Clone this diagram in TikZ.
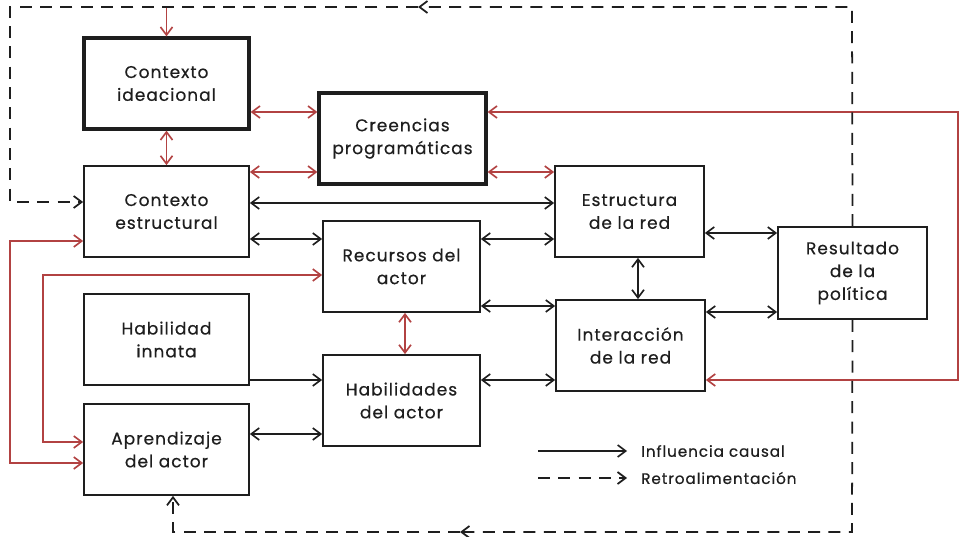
\documentclass[tikz,border=0pt]{standalone}
\usepackage{fontspec}
\setmainfont{Poppins}
\newfontfamily\boxfont{Poppins}[LetterSpace=6,FakeBold=0.5]
\usetikzlibrary{arrows.meta,calc}

\definecolor{linkred}{RGB}{178,66,66}
\definecolor{ink}{RGB}{30,30,30}

\begin{document}
\begin{tikzpicture}[x=0.03cm,y=-0.03cm,
  >={Straight Barb[length=2.4mm,width=3.6mm]},
  box/.style={draw=ink, line width=1.5pt, align=center, inner sep=0pt,
    font=\boxfont\fontsize{14.5}{19.5}\selectfont, text=ink,
    execute at begin node={\rule{0pt}{16pt}}},
  thickbox/.style={box, line width=2.8pt},
  wide/.style={minimum width=4.95cm, minimum height=2.73cm},
  mid/.style={minimum width=4.71cm, minimum height=2.73cm},
  narrow/.style={minimum width=4.47cm, minimum height=2.73cm},
  link/.style={draw=ink, line width=1.4pt},
  redlink/.style={draw=linkred, line width=1.4pt},
  feedback/.style={draw=ink, line width=1.5pt, dash pattern=on 3.6mm off 2.5mm},
  legend/.style={anchor=west, inner sep=0pt, font=\boxfont\fontsize{13}{15}\selectfont, text=ink}
]
\useasboundingbox (0,0) rectangle (960,537);

% boxes
\node[thickbox, wide] (ci) at (166.5,83.5) {Contexto\\ideacional};
\node[thickbox, minimum width=5.01cm, minimum height=2.73cm] (cp) at (402.5,138.5) {Creencias\\programáticas};
\node[box, wide] (ce) at (166.5,211.5) {Contexto\\estructural};
\node[box, narrow] (er) at (629.5,211.5) {Estructura\\de la red};
\node[box, mid] (ra) at (401.5,266.5) {Recursos del\\actor};
\node[box, narrow, minimum height=2.76cm] (rp) at (852.5,273) {Resultado\\de la\\política};
\node[box, wide] (hi) at (166.5,339.5) {Habilidad\\innata};
\node[box, narrow] (ir) at (630.5,345.5) {Interacción\\de la red};
\node[box, mid] (ha) at (401.5,400.5) {Habilidades\\del actor};
\node[box, wide] (aa) at (166.5,449.5) {Aprendizaje\\del actor};

% horizontal levels of the connectors
\coordinate (y112) at (0,112);
\coordinate (y172) at (0,172);
\coordinate (y203) at (0,203);
\coordinate (y233) at (0,233);
\coordinate (y239) at (0,239);
\coordinate (y241) at (0,241);
\coordinate (y275) at (0,275);
\coordinate (y306) at (0,306);
\coordinate (y312) at (0,312);
\coordinate (y380) at (0,380);
\coordinate (y434) at (0,434);
\coordinate (y442) at (0,442);
\coordinate (y463) at (0,463);

% bends of the routed lines
\coordinate (ftr) at (852,7);
\coordinate (ftm) at (418,7);
\coordinate (ftl) at (10,7);
\coordinate (fml) at (10,202);
\coordinate (fbr) at (852,532);
\coordinate (fbm) at (460,532);
\coordinate (fbl) at (173,532);
\coordinate (rr1) at (958,112);
\coordinate (rr2) at (958,380);
\coordinate (rl1) at (10,241);
\coordinate (rl2) at (10,463);
\coordinate (rm1) at (43,275);
\coordinate (rm2) at (43,442);

% red links
\draw[redlink,->] (ci.north |- ftl) -- (ci.north);
\draw[redlink,<->] (ci.south) -- (ce.north);
\draw[redlink,<->] (ci.east |- y112) -- (cp.west |- y112);
\draw[redlink,<->] (ce.east |- y172) -- (cp.west |- y172);
\draw[redlink,<->] (cp.east |- y172) -- (er.west |- y172);
\draw[redlink,<->] (cp.east |- y112) -- (rr1) -- (rr2) -- (ir.east |- y380);
\draw[redlink,<->] (ce.west |- y241) -- (rl1) -- (rl2) -- (aa.west |- y463);
\draw[redlink,<->] (ra.west |- y275) -- (rm1) -- (rm2) -- (aa.west |- y442);
\draw[redlink,<->] (ra.south -| 405,0) -- (ha.north -| 405,0);

% causal links
\draw[link,<->] (ce.east |- y203) -- (er.west |- y203);
\draw[link,<->] (ce.east |- y239) -- (ra.west |- y239);
\draw[link,<->] (ra.east |- y239) -- (er.west |- y239);
\draw[link,<->] (er.east |- y233) -- (rp.west |- y233);
\draw[link,<->] (ra.east |- y306) -- (ir.west |- y306);
\draw[link,<->] (ir.east |- y312) -- (rp.west |- y312);
\draw[link,<->] (er.south -| 638,0) -- (ir.north -| 638,0);
\draw[link,->] (hi.east |- y380) -- (ha.west |- y380);
\draw[link,<->] (ha.east |- y380) -- (ir.west |- y380);
\draw[link,<->] (aa.east |- y434) -- (ha.west |- y434);

% feedback loops
\draw[feedback,->] (rp.north) -- (ftr) -- (ftm);
\draw[feedback,->] (ftm) -- (ftl) -- (fml) -- (ce.west |- fml);
\draw[feedback,->] (rp.south) -- (fbr) -- (fbm);
\draw[feedback,->] (fbm) -- (fbl) -- (aa.south -| fbl);

% legend
\coordinate (ls1) at (538,451);
\coordinate (le1) at (627,451);
\coordinate (ls2) at (538,478);
\coordinate (le2) at (627,478);
\draw[link,->] (ls1) -- (le1);
\draw[feedback,->] (ls2) -- (le2);
\node[legend] (lt1) at (641,451) {Influencia causal};
\node[legend] (lt2) at (641,478) {Retroalimentación};
\end{tikzpicture}
\end{document}
